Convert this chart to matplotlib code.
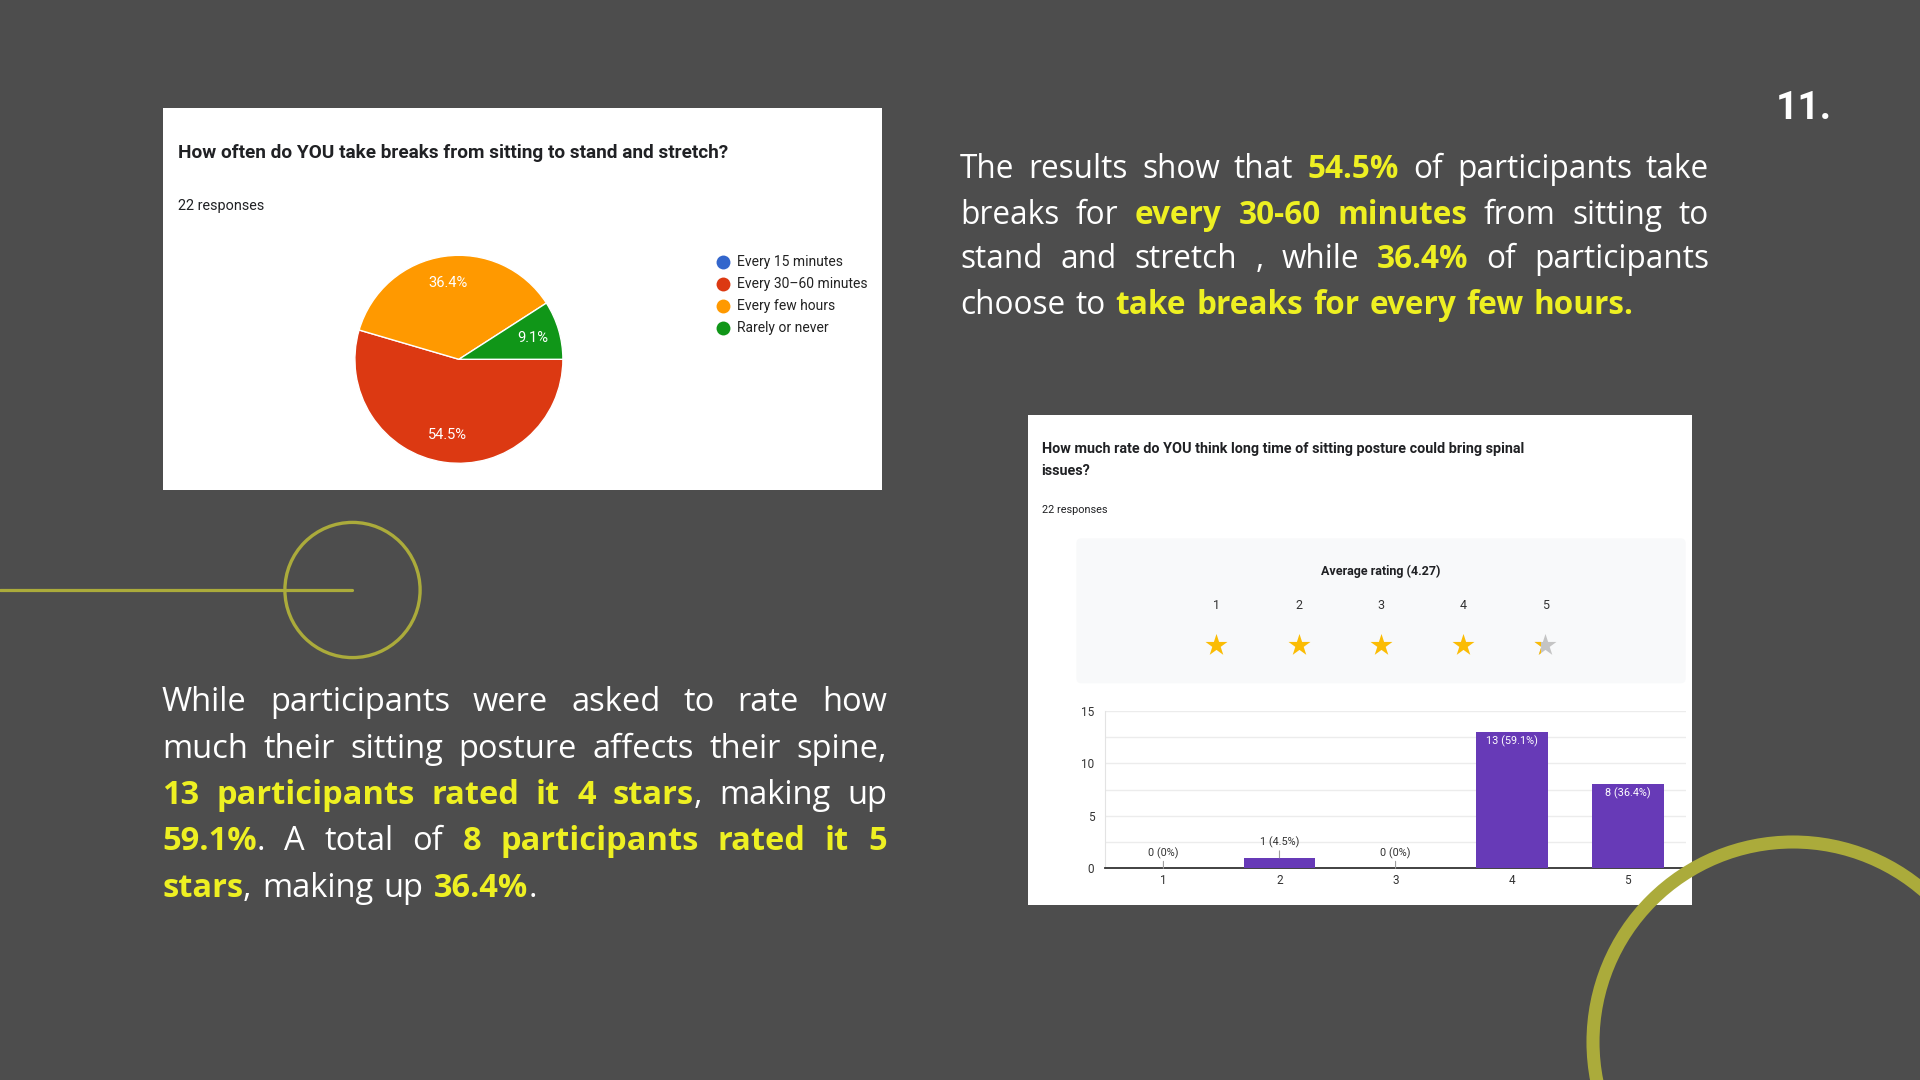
import numpy as np
import matplotlib.pyplot as plt
from matplotlib.patches import Circle, Rectangle, FancyBboxPatch

W, H = 1920, 1080
BG = '#4d4d4d'
OLIVE = '#abab3b'
YELLOW = '#eef022'
BODY_FONT = 'Open Sans'
CHART_FONT = 'Roboto'

# pie chart data
pie_title = "How often do YOU take breaks from sitting to stand and stretch?"
pie_labels = ["Every 15 minutes", "Every 30–60 minutes", "Every few hours", "Rarely or never"]
pie_counts = [0, 12, 8, 2]
pie_colors = ["#3366cc", "#dc3912", "#ff9900", "#109618"]

# rating chart data
bar_title = ["How much rate do YOU think long time of sitting posture could bring spinal",
             "issues?"]
ratings = [1, 2, 3, 4, 5]
rating_counts = [0, 1, 0, 13, 8]

# slide text (** marks the yellow bold parts)
page_no = "11."
para_right = [
    "The results show that **54.5%** of participants take",
    "breaks for **every 30-60 minutes** from sitting to",
    "stand and stretch , while **36.4%** of participants",
    "choose to **take breaks for every few hours.**",
]
para_left = [
    "While participants were asked to rate how",
    "much their sitting posture affects their spine,",
    "**13 participants rated it 4 stars**, making up",
    "**59.1%**. A total of **8 participants rated it 5**",
    "**stars**, making up **36.4%**.",
]

fig = plt.figure(figsize=(19.2, 10.8), dpi=100, facecolor=BG)
rend = fig.canvas.get_renderer()

# background layer in pixel coordinates
deco = fig.add_axes([0, 0, 1, 1], zorder=0)
deco.set_xlim(0, W)
deco.set_ylim(H, 0)
deco.axis('off')
deco.plot([0, 352], [590, 590], color=OLIVE, lw=2.3, solid_capstyle='round')
deco.add_patch(Circle((352.5, 590), 67.6, fill=False, ec=OLIVE, lw=2.4))
deco.text(1832, 119, page_no, ha='right', va='baseline', fontsize=28, fontweight='bold',
          color='white', family='Roboto')


def parse(line):
    words = [[]]
    for i, seg in enumerate(line.split('**')):
        bold = i % 2 == 1
        for j, p in enumerate(seg.split(' ')):
            if j > 0:
                words.append([])
            if p:
                words[-1].append((p, bold))
    return [w for w in words if w]


def paragraph(lines, x0, x1, y0, step, size):
    space = 0.32 * size * 100 / 72
    for k, line in enumerate(lines):
        y = y0 + k * step
        words = []
        for word in parse(line):
            runs = []
            for txt, bold in word:
                t = deco.text(0, y, txt, fontsize=size, family=BODY_FONT,
                              fontweight='bold' if bold else 'normal',
                              color=YELLOW if bold else 'white', va='baseline', ha='left')
                runs.append((t, t.get_window_extent(rend).width))
            words.append(runs)
        widths = [sum(w for _, w in runs) for runs in words]
        if k == len(lines) - 1:
            gap = space
        else:
            gap = (x1 - x0 - sum(widths)) / (len(words) - 1)
        x = x0
        for runs, ww in zip(words, widths):
            xx = x
            for t, w in runs:
                t.set_x(xx)
                xx += w
            x += ww + gap


paragraph(para_right, 960, 1709, 178.5, 45, 22.7)
paragraph(para_left, 162, 887, 711, 46.5, 23.5)


def panel(x0, y0, w, h):
    ax = fig.add_axes([x0 / W, 1 - (y0 + h) / H, w / W, h / H], zorder=1)
    ax.set_xlim(0, w)
    ax.set_ylim(h, 0)
    ax.set_xticks([])
    ax.set_yticks([])
    for s in ax.spines.values():
        s.set_visible(False)
    ax.set_facecolor('white')
    return ax


# ---- pie card
ax1 = panel(163, 108, 719, 382)
ax1.text(15, 45, pie_title, fontsize=13.7, fontweight='bold', family=CHART_FONT,
         color='#202124', va='center')
ax1.text(15, 98, f"{sum(pie_counts)} responses", fontsize=10.4, family=CHART_FONT,
         color='#202124', va='center')
for i, (lab, col) in enumerate(zip(pie_labels, pie_colors)):
    ax1.scatter(560.3, 154.3 + 22 * i, s=100, color=col, lw=0)
    ax1.text(574.3, 154.3 + 22 * i, lab, fontsize=10, family=CHART_FONT,
             color='#222222', va='center')

pax = fig.add_axes([(458.9 - 130) / W, 1 - (359.3 + 130) / H, 260 / W, 260 / H], zorder=2)
pax.pie(pie_counts, colors=pie_colors, startangle=0, counterclock=False,
        autopct=lambda p: f'{p:.1f}%' if p > 0 else '', pctdistance=0.74,
        wedgeprops=dict(edgecolor='white', linewidth=1),
        textprops=dict(color='white', fontsize=10.5, family=CHART_FONT))
pax.set_xlim(-1.25, 1.25)
pax.set_ylim(-1.25, 1.25)
pax.set_aspect('equal')

# ---- rating card
n = sum(rating_counts)
avg = sum(r * c for r, c in zip(ratings, rating_counts)) / n

ax2 = panel(1028, 415, 664, 490)
ax2.text(13.7, 34.3, bar_title[0], fontsize=10.4, fontweight='bold', family=CHART_FONT,
         color='#202124', va='center')
ax2.text(13.7, 55.7, bar_title[1], fontsize=10.4, fontweight='bold', family=CHART_FONT,
         color='#202124', va='center')
ax2.text(13.7, 95, f"{n} responses", fontsize=7.8, family=CHART_FONT, color='#202124', va='center')
ax2.add_patch(FancyBboxPatch((48.4, 123.3), 609.3, 145, boxstyle='round,pad=0,rounding_size=5',
                             fc='#f8f9fa', ec='none'))
ax2.text(352.8, 156.7, f"Average rating ({avg:.2f})", fontsize=9, fontweight='bold',
         family=CHART_FONT, color='#202124', ha='center', va='center')
star_x = np.linspace(188.4, 517.1, len(ratings))
for sx, r in zip(star_x, ratings):
    ax2.text(sx, 190.7, str(r), fontsize=9, family=CHART_FONT, color='#333333',
             ha='center', va='center')
    if r <= avg:
        ax2.scatter(sx, 230, marker='*', s=277, color='#fbbc04', lw=0)
    else:
        ax2.scatter(sx, 230, marker='*', s=277, color='#c4c4c4', lw=0)
        part = ax2.scatter(sx, 230, marker='*', s=277, color='#fbbc04', lw=0)
        frac = avg - (r - 1)
        part.set_clip_path(Rectangle((sx - 15, 200), 4 + 22 * frac, 60, transform=ax2.transData))

bax = fig.add_axes([1105.4 / W, 1 - 868.3 / H, 580.3 / W, 157.3 / H], zorder=2)
x = np.arange(len(ratings))
bax.bar(x, rating_counts, width=0.62, color='#673ab7', zorder=3)
bax.set_xlim(-0.5, 4.5)
bax.set_ylim(0, 15)
bax.set_yticks([0, 5, 10, 15])
bax.set_yticks([2.5, 7.5, 12.5], minor=True)
bax.set_xticks(x, [str(r) for r in ratings])
bax.grid(axis='y', which='both', color='#ececec', lw=1)
bax.set_axisbelow(True)
bax.set_facecolor('none')
bax.tick_params(which='both', length=0, labelsize=8.5, colors='#333333')
bax.tick_params(axis='y', pad=8)
bax.tick_params(axis='x', pad=4.3)
for lab in bax.get_xticklabels() + bax.get_yticklabels():
    lab.set_family(CHART_FONT)
bax.spines['top'].set_visible(False)
bax.spines['right'].set_visible(False)
bax.spines['left'].set_color('#e3e3e3')
bax.spines['bottom'].set_color('#333333')
bax.spines['bottom'].set_linewidth(1.3)
for xi, v in zip(x, rating_counts):
    lbl = f"{v} ({round(v / n * 100, 1):g}%)"
    if v > 3:
        bax.annotate(lbl, xy=(xi, v), xytext=(0, -2.5), textcoords='offset points',
                     ha='center', va='top', fontsize=7.8, family=CHART_FONT, color='white', zorder=4)
    else:
        bax.annotate(lbl, xy=(xi, v), xytext=(0, 7), textcoords='offset points',
                     ha='center', va='bottom', fontsize=7.8, family=CHART_FONT, color='#333333',
                     arrowprops=dict(arrowstyle='-', color='#9e9e9e', lw=0.8,
                                     shrinkA=0, shrinkB=0, relpos=(0.5, 0)), zorder=4)

# decoration drawn over the card
top = fig.add_axes([0, 0, 1, 1], zorder=5)
top.set_xlim(0, W)
top.set_ylim(H, 0)
top.axis('off')
top.add_patch(Circle((1793, 1042), 200, fill=False, ec=OLIVE, lw=9.4))

fig.savefig('out.png', dpi=100, facecolor=BG)
